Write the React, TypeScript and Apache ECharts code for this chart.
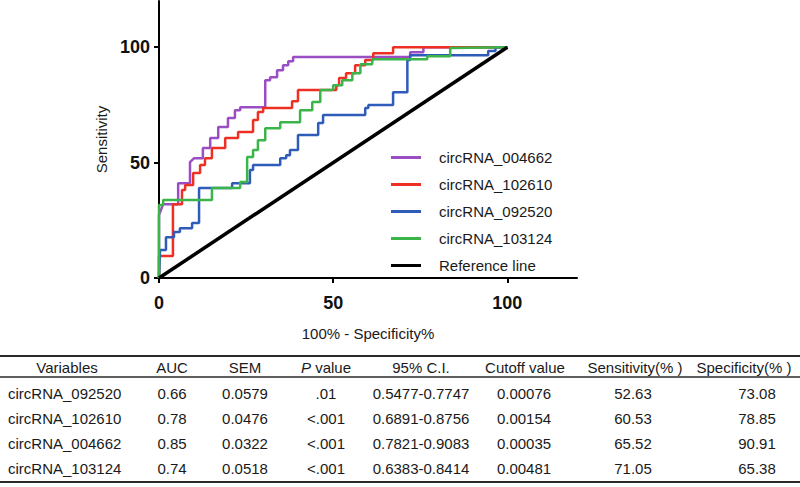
import React, { useEffect, useRef } from "react";
import * as echarts from "echarts";

const FONT = '"Liberation Sans", Arial, sans-serif';

const seriesNames = ["circRNA_004662", "circRNA_102610", "circRNA_092520", "circRNA_103124", "Reference line"];
const seriesColors = ["#9b4dc4", "#ee3024", "#2f5cb8", "#3bb44a", "#000000"];

// ROC staircase vertices [100% - Specificity%, Sensitivity]
const roc004662: number[][] = [
  [0, 0], [0, 27.3], [1.2, 32.0], [5.5, 32.0], [5.5, 41.1], [8.9, 41.1], [8.9, 50.2], [10.1, 51.9],
  [12.6, 51.9], [12.6, 56.3], [14.7, 56.3], [14.7, 60.6], [17.0, 60.6], [17.0, 65.4], [19.8, 65.4],
  [19.8, 69.3], [21.8, 69.3], [21.8, 72.7], [23.3, 72.7], [23.3, 74.0], [30.5, 74.0], [30.5, 85.7],
  [31.9, 85.7], [31.9, 87.0], [33.9, 87.0], [33.9, 90.0], [35.6, 90.0], [35.6, 92.2], [37.1, 92.2],
  [37.1, 93.9], [38.5, 93.9], [38.5, 95.7], [72.1, 95.7], [72.1, 97.8], [75.9, 97.8], [75.9, 100], [100, 100],
];
const roc102610: number[][] = [
  [0, 0], [0, 9.5], [4.0, 9.5], [4.0, 32.0], [6.6, 32.0], [6.6, 38.1], [7.5, 38.1], [7.5, 40.3],
  [9.8, 40.3], [9.8, 45.5], [11.8, 45.5], [11.8, 48.9], [13.2, 48.9], [13.2, 51.9], [15.2, 51.9],
  [15.2, 56.3], [19.0, 56.3], [19.0, 60.6], [22.7, 60.6], [22.7, 63.2], [27.0, 63.2], [27.0, 68.4],
  [28.4, 68.4], [28.4, 71.9], [29.9, 71.9], [29.9, 73.6], [38.2, 73.6], [38.2, 76.6], [39.9, 76.6],
  [39.9, 81.4], [50.9, 81.4], [50.9, 83.5], [51.7, 83.5], [51.7, 86.6], [53.7, 86.6], [53.7, 88.7],
  [56.3, 88.7], [56.3, 92.2], [59.2, 92.2], [59.2, 94.4], [61.5, 94.4], [61.5, 97.4], [67.2, 97.4],
  [67.2, 100], [100, 100],
];
const roc092520: number[][] = [
  [0, 0], [0.3, 12.1], [2.0, 12.1], [2.0, 17.7], [4.3, 17.7], [4.3, 19.9], [6.0, 19.9], [6.0, 21.6],
  [9.5, 21.6], [9.5, 23.8], [11.5, 23.8], [11.5, 39.0], [21.0, 39.0], [21.0, 41.1], [26.1, 41.1],
  [26.1, 46.8], [27.0, 46.8], [27.0, 48.9], [34.8, 48.9], [34.8, 51.9], [36.5, 51.9], [36.5, 53.2],
  [37.6, 53.2], [37.6, 55.4], [39.9, 55.4], [39.9, 61.9], [45.7, 61.9], [45.7, 67.1], [47.1, 67.1],
  [47.1, 70.6], [59.2, 70.6], [59.2, 73.6], [60.1, 73.6], [60.1, 74.9], [67.2, 74.9], [67.2, 80.5],
  [71.3, 80.5], [71.3, 94.4], [72.1, 94.4], [72.1, 96.5], [94.5, 96.5], [94.5, 98.3], [96.6, 98.3],
  [96.6, 100], [100, 100],
];
const roc103124: number[][] = [
  [0, 0], [0, 31.6], [1.2, 31.6], [1.2, 33.8], [15.2, 33.8], [15.2, 39.0], [23.3, 39.0], [23.3, 41.6],
  [25.3, 41.6], [25.3, 52.4], [27.0, 52.4], [27.0, 55.4], [28.4, 55.4], [28.4, 59.7], [30.5, 59.7],
  [30.5, 64.9], [34.8, 64.9], [34.8, 67.5], [40.5, 67.5], [40.5, 72.7], [44.0, 72.7], [44.0, 76.2],
  [46.3, 76.2], [46.3, 81.4], [50.0, 81.4], [50.0, 83.5], [52.6, 83.5], [52.6, 85.7], [55.5, 85.7],
  [55.5, 88.7], [57.8, 88.7], [57.8, 92.6], [61.2, 92.6], [61.2, 94.8], [77.0, 94.8], [77.0, 96.1],
  [83.6, 96.1], [83.6, 99.6], [100, 100],
];
const referenceLine: number[][] = [[0, 0], [100, 100]];
const rocData = [roc004662, roc102610, roc092520, roc103124, referenceLine];

const axisTickValues = [0, 50, 100];

// Table
const tableHeaders = ["Variables", "AUC", "SEM", "P value", "95% C.I.", "Cutoff value", "Sensitivity(% )", "Specificity(% )"];
const tableVariables = ["circRNA_092520", "circRNA_102610", "circRNA_004662", "circRNA_103124"];
const tableAUC = ["0.66", "0.78", "0.85", "0.74"];
const tableSEM = ["0.0579", "0.0476", "0.0322", "0.0518"];
const tablePValue = [".01", "<.001", "<.001", "<.001"];
const tableCI = ["0.5477-0.7747", "0.6891-0.8756", "0.7821-0.9083", "0.6383-0.8414"];
const tableCutoff = ["0.00076", "0.00154", "0.00035", "0.00481"];
const tableSensitivity = ["52.63", "60.53", "65.52", "71.05"];
const tableSpecificity = ["73.08", "78.85", "90.91", "65.38"];

export default function App() {
  const ref = useRef<HTMLDivElement>(null);
  useEffect(() => {
    if (!ref.current) return;
    const chart = echarts.init(ref.current, null, { renderer: "svg" });

    const textColor = "#1a1a1a";
    const headerX = [67, 172, 245, 326, 421, 525, 635, 744];
    const valueX = [8, 172, 245, 326, 421, 524, 633, 757];
    const headerY = 367;
    const rowY = [393, 418, 443, 468];
    const columns = [tableVariables, tableAUC, tableSEM, tablePValue, tableCI, tableCutoff, tableSensitivity, tableSpecificity];

    const graphics: any[] = [];
    const lineEl = (y: number, w: number) => ({
      type: "line",
      shape: { x1: 0, y1: y, x2: 800, y2: y },
      style: { stroke: "#2a2a2a", lineWidth: w },
    });
    graphics.push(lineEl(356, 2.2), lineEl(377, 1.6), lineEl(482, 2.2));
    tableHeaders.forEach((h, i) => {
      if (h === "P value") {
        graphics.push({
          type: "text",
          x: headerX[i],
          y: headerY,
          style: {
            text: "{i|P} value",
            fontFamily: FONT,
            fontSize: 15,
            fill: textColor,
            align: "center",
            verticalAlign: "middle",
            rich: { i: { fontStyle: "italic", fontFamily: FONT, fontSize: 15, fill: textColor } },
          },
        });
      } else {
        graphics.push({
          type: "text",
          x: headerX[i],
          y: headerY,
          style: { text: h, fontFamily: FONT, fontSize: 15, fill: textColor, align: "center", verticalAlign: "middle" },
        });
      }
    });
    columns.forEach((col, ci) => {
      col.forEach((v, ri) => {
        graphics.push({
          type: "text",
          x: valueX[ci],
          y: rowY[ri],
          style: {
            text: v,
            fontFamily: FONT,
            fontSize: 15,
            fill: textColor,
            align: ci === 0 ? "left" : "center",
            verticalAlign: "middle",
          },
        });
      });
    });

    const axisCommon = {
      type: "value" as const,
      min: 0,
      max: 120,
      interval: 50,
      splitLine: { show: false },
      axisLine: { show: true, onZero: false, lineStyle: { color: "#000", width: 2 } },
      axisTick: { show: true, length: 5, lineStyle: { color: "#000", width: 2 }, customValues: axisTickValues },
      axisLabel: {
        customValues: axisTickValues,
        fontFamily: FONT,
        fontSize: 18,
        fontWeight: "bold" as const,
        color: "#111",
      },
      nameTextStyle: { fontFamily: FONT, fontSize: 15, color: textColor },
    };

    chart.setOption({
      animation: false,
      backgroundColor: "#fff",
      grid: { left: 159, right: 223, top: 1, bottom: 209, containLabel: false },
      xAxis: {
        ...axisCommon,
        name: "100% - Specificity%",
        nameLocation: "middle",
        nameGap: 48,
        axisLabel: { ...axisCommon.axisLabel, margin: 16 },
      },
      yAxis: {
        ...axisCommon,
        name: "Sensitivity",
        nameLocation: "middle",
        nameGap: 50,
        nameRotate: 90,
        axisLabel: { ...axisCommon.axisLabel, margin: 9 },
      },
      legend: {
        orient: "vertical",
        left: 386,
        top: 145,
        itemWidth: 30,
        itemHeight: 3,
        itemGap: 12,
        textStyle: { fontFamily: FONT, fontSize: 15, color: textColor, padding: [0, 0, 0, 13] },
        data: seriesNames.map((n, i) => ({
          name: n,
          icon: "rect",
          itemStyle: { color: seriesColors[i] },
        })),
      },
      series: seriesNames.map((n, i) => ({
        name: n,
        type: "line",
        data: rocData[i],
        showSymbol: false,
        symbol: "none",
        color: seriesColors[i],
        lineStyle: { color: seriesColors[i], width: i === 4 ? 3.5 : 2.5 },
        z: 2 + i,
      })),
      graphic: graphics,
    });
    return () => chart.dispose();
  }, []);
  return <div ref={ref} style={{ width: 800, height: 487, position: "absolute", left: 0, top: 0 }} />;
}
